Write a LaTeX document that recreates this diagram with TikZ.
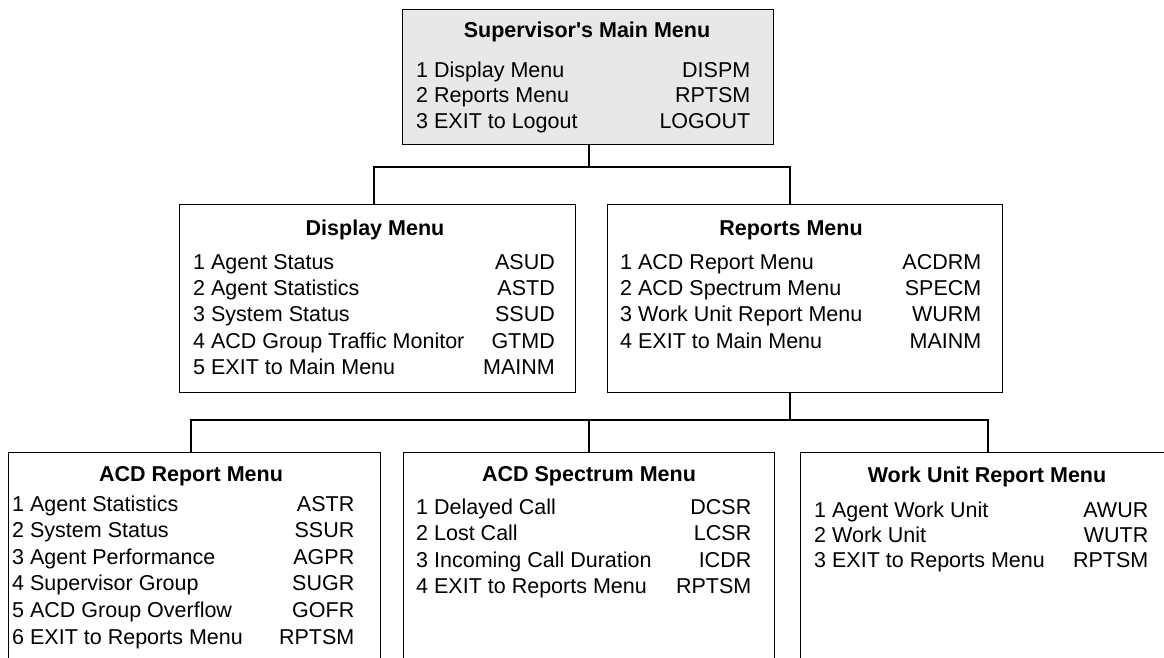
\documentclass[tikz,border=0pt]{standalone}
\usepackage{fontspec}
\setmainfont{Liberation Sans}
\begin{document}
\begin{tikzpicture}[x=1pt,y=-1pt,
  menubox/.style={draw=black, line width=1.4pt, rectangle, anchor=north west, inner sep=0pt},
  item/.style={inner sep=0pt, anchor=base west, font=\fontsize{21.5}{26}\selectfont},
  code/.style={inner sep=0pt, anchor=base east, font=\fontsize{21.5}{26}\selectfont},
  ttl/.style={inner sep=0pt, anchor=base, font=\bfseries\fontsize{21.5}{26}\selectfont},
  link/.style={draw=black, line width=1.4pt}]
\path[use as bounding box] (0,0) rectangle (1164,657);
\clip (0,0) rectangle (1164,657);

% boxes
\node[menubox, fill=gray!18, minimum width=371pt, minimum height=135pt] (main) at (402,9) {};
\node[menubox, minimum width=396pt, minimum height=188pt] (disp) at (179,204) {};
\node[menubox, minimum width=395pt, minimum height=188pt] (rep) at (607,204) {};
\node[menubox, minimum width=372pt, minimum height=240pt] (acd) at (8,452) {};
\node[menubox, minimum width=371pt, minimum height=240pt] (spec) at (403,452) {};
\node[menubox, minimum width=380pt, minimum height=240pt] (wu) at (800,452) {};

% connectors
\coordinate (mX) at (589,167);
\coordinate (dX) at (374,167);
\coordinate (rX) at (790,167);
\coordinate (rb) at (790,420);
\coordinate (aX) at (191,420);
\coordinate (sX) at (589,420);
\coordinate (wX) at (988,420);
\draw[link] (main.south -| mX) -- (mX);
\draw[link] (disp.north -| dX) -- (dX) -- (rX) -- (rep.north -| rX);
\draw[link] (rep.south -| rb) -- (rb);
\draw[link] (acd.north -| aX) -- (aX) -- (wX) -- (wu.north -| wX);
\draw[link] (sX) -- (spec.north -| sX);

% Supervisor's Main Menu
\node[ttl] (mt) at (587,37) {Supervisor\textquotesingle s Main Menu};
\node[item] (m1) at (416,77) {1 Display Menu};
\node[item] (m2) at (416,102.5) {2 Reports Menu};
\node[item] (m3) at (416,128.5) {3 EXIT to Logout};
\node[code] (m1c) at (750.5,77) {DISPM};
\node[code] (m2c) at (750.5,102.5) {RPTSM};
\node[code] (m3c) at (750.5,128.5) {LOGOUT};

% Display Menu
\node[ttl] (dt) at (375,235) {Display Menu};
\node[item] (d1) at (193,269) {1 Agent Status};
\node[item] (d2) at (193,295.3) {2 Agent Statistics};
\node[item] (d3) at (193,321.6) {3 System Status};
\node[item] (d4) at (193,348) {4 ACD Group Traffic Monitor};
\node[item] (d5) at (193,374.3) {5 EXIT to Main Menu};
\node[code] (d1c) at (555,269) {ASUD};
\node[code] (d2c) at (555,295.3) {ASTD};
\node[code] (d3c) at (555,321.6) {SSUD};
\node[code] (d4c) at (555,348) {GTMD};
\node[code] (d5c) at (555,374.3) {MAINM};

% Reports Menu
\node[ttl] (rt) at (791,235) {Reports Menu};
\node[item] (r1) at (620,269) {1 ACD Report Menu};
\node[item] (r2) at (620,295.4) {2 ACD Spectrum Menu};
\node[item] (r3) at (620,321.8) {3 Work Unit Report Menu};
\node[item] (r4) at (620,348.2) {4 EXIT to Main Menu};
\node[code] (r1c) at (981.5,269) {ACDRM};
\node[code] (r2c) at (981.5,295.4) {SPECM};
\node[code] (r3c) at (981.5,321.8) {WURM};
\node[code] (r4c) at (981.5,348.2) {MAINM};

% ACD Report Menu
\node[ttl] (at) at (191,481.7) {ACD Report Menu};
\node[item] (a1) at (12,511) {1 Agent Statistics};
\node[item] (a2) at (12,537.6) {2 System Status};
\node[item] (a3) at (12,564.2) {3 Agent Performance};
\node[item] (a4) at (12,590.8) {4 Supervisor Group};
\node[item] (a5) at (12,617.4) {5 ACD Group Overflow};
\node[item] (a6) at (12,644) {6 EXIT to Reports Menu};
\node[code] (a1c) at (354.5,511) {ASTR};
\node[code] (a2c) at (354.5,537.6) {SSUR};
\node[code] (a3c) at (354.5,564.2) {AGPR};
\node[code] (a4c) at (354.5,590.8) {SUGR};
\node[code] (a5c) at (354.5,617.4) {GOFR};
\node[code] (a6c) at (354.5,644) {RPTSM};

% ACD Spectrum Menu
\node[ttl] (st) at (589,481.7) {ACD Spectrum Menu};
\node[item] (s1) at (416,514) {1 Delayed Call};
\node[item] (s2) at (416,540.5) {2 Lost Call};
\node[item] (s3) at (416,567) {3 Incoming Call Duration};
\node[item] (s4) at (416,593.5) {4 EXIT to Reports Menu};
\node[code] (s1c) at (751.5,514) {DCSR};
\node[code] (s2c) at (751.5,540.5) {LCSR};
\node[code] (s3c) at (751.5,567) {ICDR};
\node[code] (s4c) at (751.5,593.5) {RPTSM};

% Work Unit Report Menu
\node[ttl] (wt) at (987,482.7) {Work Unit Report Menu};
\node[item] (w1) at (814,517.5) {1 Agent Work Unit};
\node[item] (w2) at (814,542.5) {2 Work Unit};
\node[item] (w3) at (814,567.5) {3 EXIT to Reports Menu};
\node[code] (w1c) at (1148.5,517.5) {AWUR};
\node[code] (w2c) at (1148.5,542.5) {WUTR};
\node[code] (w3c) at (1148.5,567.5) {RPTSM};
\end{tikzpicture}
\end{document}
